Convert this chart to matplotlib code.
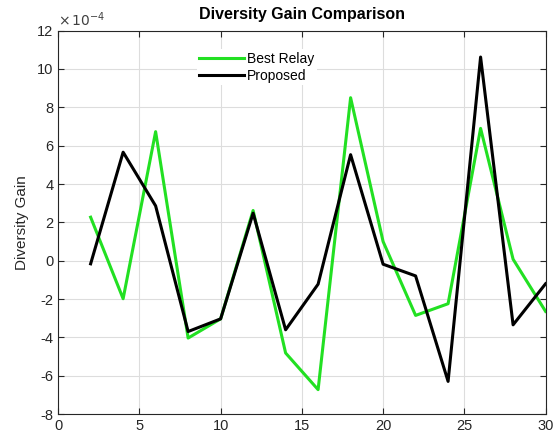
import numpy as np
import matplotlib.pyplot as plt

# node index
x = [2, 4, 6, 8, 10, 12, 14, 16, 18, 20, 22, 24, 26, 28, 30]
# diversity gain, units of 1e-4
best_relay = [2.27, -1.98, 6.73, -4.03, -3.03, 2.62, -4.81, -6.72, 8.5, 1.0, -2.85, -2.24, 6.9, 0.08, -2.64]
proposed = [-0.16, 5.66, 2.86, -3.69, -3.03, 2.48, -3.6, -1.22, 5.53, -0.18, -0.79, -6.29, 10.62, -3.34, -1.2]

plt.rcParams['font.family'] = ['Liberation Sans', 'DejaVu Sans']
plt.rcParams['axes.unicode_minus'] = False

fig = plt.figure(figsize=(5.59, 4.43), dpi=100)
ax = fig.add_axes([0.104, 0.065, 0.872, 0.866])

ax.plot(x, best_relay, color='#22e022', lw=2.2, label='Best Relay')
ax.plot(x, proposed, color='black', lw=2.2, label='Proposed')

ax.set_xlim(0, 30)
ax.set_ylim(-8, 12)
ax.set_xticks(np.arange(0, 31, 5))
ax.set_yticks(np.arange(-8, 13, 2))

# exponent label, matlab style
ax.text(0.0, 1.005, r'$\times\,10^{-4}$', transform=ax.transAxes,
        fontsize=10, color='#404040', ha='left', va='bottom')

ax.grid(True, color='#dddddd', lw=0.8)
ax.set_axisbelow(True)
ax.tick_params(direction='in', top=True, right=True, labelsize=10.5,
               colors='#262626', length=4)
for s in ax.spines.values():
    s.set_color('#262626')
    s.set_linewidth(0.8)

ax.set_ylabel('Diversity Gain', fontsize=11, color='#262626', labelpad=6)
ax.set_title('Diversity Gain Comparison', fontsize=11.5, fontweight='bold', pad=8)

leg = ax.legend(loc='upper left', bbox_to_anchor=(0.27, 0.97), frameon=True,
                fontsize=10, handlelength=3.2, handletextpad=0.2,
                labelspacing=0.2, borderpad=0.2)
leg.get_frame().set_edgecolor('none')
leg.get_frame().set_facecolor('white')
leg.get_frame().set_alpha(1)

fig.savefig('out.png', dpi=100)
